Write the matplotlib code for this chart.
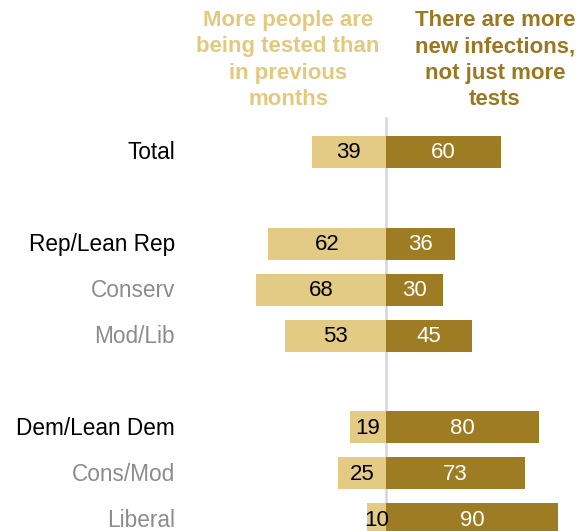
import numpy as np
import matplotlib.pyplot as plt

# Data (blank strings are spacer rows)
categories = ['Total', '', 'Rep/Lean Rep', 'Conserv', 'Mod/Lib', '',
              'Dem/Lean Dem', 'Cons/Mod', 'Liberal']
more_tested = [39, None, 62, 68, 53, None, 19, 25, 10]
more_infections = [60, None, 36, 30, 45, None, 80, 73, 90]
is_subgroup = [False, False, False, True, True, False, False, True, True]

header_left = 'More people are\nbeing tested than\nin previous\nmonths'
header_right = 'There are more\nnew infections,\nnot just more\ntests'

light = '#E3CA85'
dark = '#9E7C24'
fonts = ['Liberation Sans Narrow', 'Liberation Sans', 'DejaVu Sans']
plt.rcParams['font.family'] = fonts

fig = plt.figure(figsize=(5.82, 5.31), dpi=100)
ax = fig.add_axes([0, 0, 1, 1])

# pixel mapping: center at 386px, 1.91 px per point, rows every 45.9px from 152px
ax.set_xlim(-386 / 1.91, (582 - 386) / 1.91)
ax.set_ylim((531 - 152) / 45.9, -152 / 45.9)
ax.axis('off')

ax.plot([0, 0], [(118 - 152) / 45.9, 9], color='#D5D5D5', lw=1.8, zorder=1)

for i, cat in enumerate(categories):
    if not cat:
        continue
    l = more_tested[i]
    r = more_infections[i]
    ax.barh(i, -l, height=0.70, color=light, zorder=2)
    ax.barh(i, r, height=0.70, color=dark, zorder=2)
    ax.text(-l / 2, i + 0.02, str(l), ha='center', va='center', fontsize=16,
            color='black', family=['Liberation Sans', 'DejaVu Sans'], zorder=3)
    ax.text(r / 2, i + 0.02, str(r), ha='center', va='center', fontsize=16,
            color='white', family=['Liberation Sans', 'DejaVu Sans'], zorder=3)
    ax.text((175 - 386) / 1.91, i + 0.02, cat, ha='right', va='center', fontsize=16.3,
            color='#8C8C8C' if is_subgroup[i] else 'black',
            family=['Liberation Sans', 'DejaVu Sans'])

hy = (60 - 152) / 45.9
ax.text((288 - 386) / 1.91, hy, header_left, ha='center', va='center',
        fontsize=16, fontweight='bold', color='#E3C97E', linespacing=1.34)
ax.text((495 - 386) / 1.91, hy, header_right, ha='center', va='center',
        fontsize=16, fontweight='bold', color='#997820', linespacing=1.34)

fig.savefig('out.png', dpi=100)
